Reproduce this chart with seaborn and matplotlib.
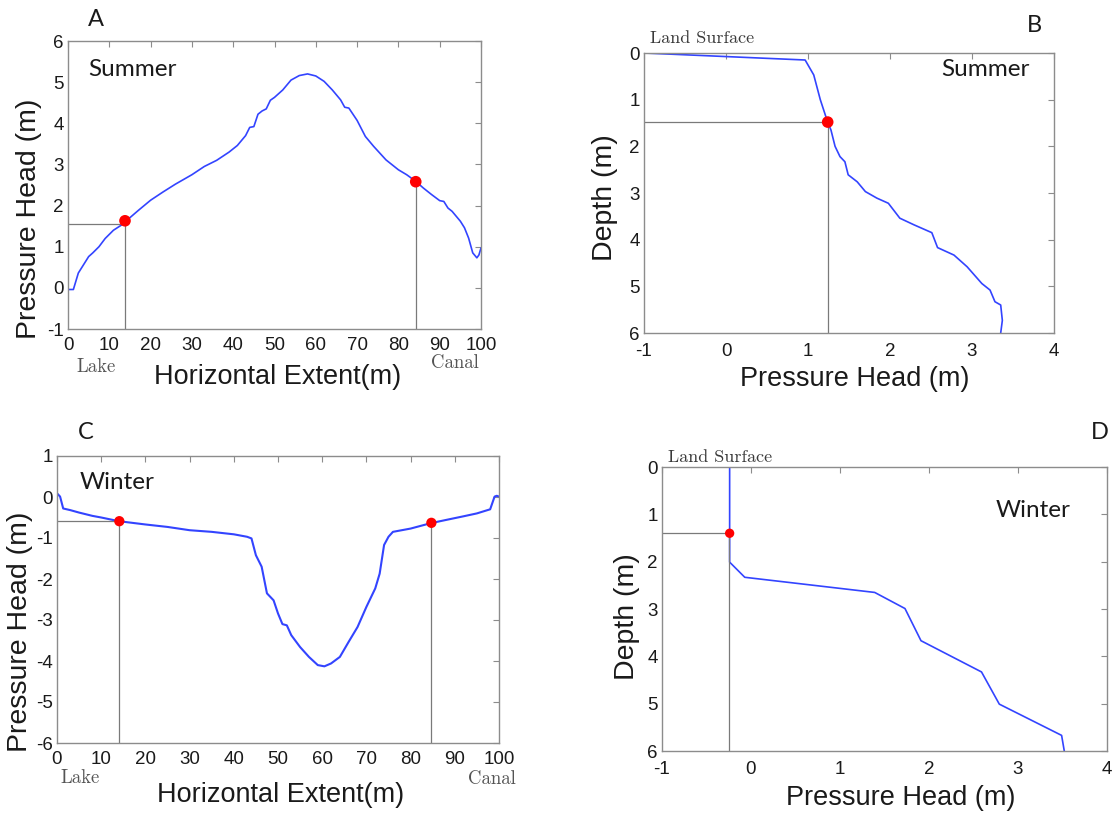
import matplotlib
matplotlib.use("Agg")
import matplotlib.pyplot as plt
import seaborn as sns

# ---------------- data ----------------
# Panel A: Summer, horizontal profile
a_x = [0, 1.3, 2.5, 4, 5, 6, 7.5, 9, 11, 13, 14, 17, 20, 23, 26, 30, 33, 36, 39, 41,
       43, 44, 45, 46, 47, 48, 49, 50, 52, 54, 56, 58, 60, 62, 64, 66, 67, 68, 70, 72,
       74, 77, 80, 82, 84.2, 86, 88, 90, 91, 92, 93, 94, 95, 96, 97, 98, 99, 99.5, 100]
a_y = [-0.04, -0.04, 0.36, 0.6, 0.76, 0.85, 1.0, 1.2, 1.4, 1.53, 1.62, 1.88, 2.13, 2.33,
       2.52, 2.75, 2.95, 3.1, 3.3, 3.46, 3.7, 3.9, 3.92, 4.22, 4.3, 4.35, 4.56, 4.63,
       4.81, 5.05, 5.16, 5.2, 5.15, 5.02, 4.81, 4.57, 4.39, 4.37, 4.07, 3.68, 3.44, 3.11,
       2.87, 2.75, 2.59, 2.43, 2.27, 2.12, 2.1, 1.94, 1.86, 1.74, 1.62, 1.46, 1.21, 0.85,
       0.73, 0.8, 0.97]
a_pts_x = [13.8, 84.2]
a_pts_y = [1.63, 2.58]
a_href = 1.55

# Panel B: Summer, vertical profile
b_head = [-1.0, 0.965, 1.07, 1.15, 1.23, 1.24, 1.28, 1.33, 1.39, 1.45, 1.49, 1.60, 1.70,
          1.84, 1.98, 2.12, 2.29, 2.51, 2.58, 2.78, 2.94, 3.12, 3.22, 3.28, 3.35, 3.37, 3.35]
b_depth = [0.0, 0.15, 0.47, 1.0, 1.43, 1.48, 1.65, 2.0, 2.22, 2.33, 2.61, 2.76, 2.97,
           3.11, 3.22, 3.54, 3.68, 3.85, 4.17, 4.33, 4.58, 4.94, 5.08, 5.33, 5.40, 5.73, 6.0]
b_pt_head = [1.24]
b_pt_depth = [1.48]

# Panel C: Winter, horizontal profile
c_x = [0, 0.7, 1.4, 3, 5, 8, 10, 14, 20, 25, 30, 35, 40, 43, 44, 45, 46.3, 47.5, 49, 50,
       51, 52, 53, 55, 57, 59, 60.5, 62, 64, 66, 68, 70, 72, 73, 74, 75, 76, 80, 84.5, 88,
       92, 95, 98, 99, 99.5, 100]
c_y = [0.09, 0.01, -0.28, -0.32, -0.38, -0.46, -0.5, -0.59, -0.67, -0.73, -0.81, -0.85,
       -0.91, -0.97, -1.01, -1.42, -1.7, -2.35, -2.52, -2.84, -3.1, -3.13, -3.37, -3.66,
       -3.9, -4.1, -4.13, -4.06, -3.9, -3.53, -3.17, -2.68, -2.23, -1.87, -1.17, -0.97,
       -0.85, -0.77, -0.64, -0.56, -0.47, -0.4, -0.3, 0.01, 0.03, 0.01]
c_pts_x = [14.1, 84.7]
c_pts_y = [-0.59, -0.63]
c_href = -0.58

# Panel D: Winter, vertical profile
d_head = [-0.24, -0.24, -0.24, -0.07, 1.39, 1.73, 1.91, 2.59, 2.79, 3.49, 3.52]
d_depth = [0.0, 1.4, 2.01, 2.33, 2.65, 2.99, 3.67, 4.33, 5.01, 5.67, 6.0]
d_pt_head = [-0.24]
d_pt_depth = [1.4]

# ---------------- style ----------------
sns.set_theme(style="white")
plt.rcParams['font.family'] = ['Liberation Sans', 'DejaVu Sans']
plt.rcParams['axes.unicode_minus'] = False

W, H = 1115, 813
fig = plt.figure(figsize=(W / 100, H / 100), dpi=100)

BLUE = '#3344ff'
RED = '#ff0000'
GRAY = '#7a7a7a'
SPINE = '#8c8c8c'
TXT = '#1a1a1a'
CALI = ['Lato', 'DejaVu Sans']
SERIF = ['cmr10', 'Liberation Serif']


def add_ax(l, t, r, b):
    return fig.add_axes([l / W, 1 - b / H, (r - l) / W, (b - t) / H])


def ftext(px, py, s, **kw):
    fig.text(px / W, 1 - py / H, s, **kw)


def style_ax(ax):
    for sp in ax.spines.values():
        sp.set_color(SPINE)
        sp.set_linewidth(1.0)
    ax.tick_params(direction='in', top=True, right=True, length=4, width=0.8,
                   color=SPINE, labelcolor=TXT, labelsize=13.5)
    ax.tick_params(axis='y', pad=3)
    ax.tick_params(axis='x', pad=6)


def set_labels(ax, xl, xc, yl, yc):
    x0, y0, w, h = ax.get_position().bounds
    ax.set_xlabel(xl, fontsize=19.5, color=TXT, va='center', ha='center')
    ax.xaxis.set_label_coords((xc[0] / W - x0) / w, ((1 - xc[1] / H) - y0) / h)
    ax.set_ylabel(yl, fontsize=20.5, color=TXT, va='center', ha='center')
    ax.yaxis.set_label_coords((yc[0] / W - x0) / w, ((1 - yc[1] / H) - y0) / h)


# ---- Panel A ----
axA = add_ax(68, 41, 481, 329)
sns.lineplot(x=a_x, y=a_y, ax=axA, sort=False, estimator=None, color=BLUE, lw=1.2)
axA.plot([0, a_pts_x[0]], [a_href, a_href], color=GRAY, lw=0.9)
for xx, yy in zip(a_pts_x, a_pts_y):
    axA.plot([xx, xx], [-1, yy], color=GRAY, lw=0.9)
sns.scatterplot(x=a_pts_x, y=a_pts_y, ax=axA, color=RED, s=70, edgecolor='none', zorder=5)
axA.set_xlim(0, 100)
axA.set_ylim(-1, 6)
axA.set_xticks(range(0, 101, 10))
axA.set_yticks(range(-1, 7))
style_ax(axA)
set_labels(axA, 'Horizontal Extent(m)', (278, 377), 'Pressure Head (m)', (29, 219))
ftext(96, 19, 'A', fontsize=17, family=CALI, ha='center', va='center', color=TXT)
ftext(88, 70, 'Summer', fontsize=17.5, family=CALI, ha='left', va='center', color=TXT)
ftext(96, 367, 'Lake', fontsize=13.5, family=SERIF, ha='center', va='center', color='#555555')
ftext(455, 363, 'Canal', fontsize=13.5, family=SERIF, ha='center', va='center', color='#555555')

# ---- Panel B ----
axB = add_ax(644, 53, 1054, 333)
sns.lineplot(x=b_head, y=b_depth, ax=axB, sort=False, estimator=None, color=BLUE, lw=1.2)
axB.plot([-1, b_pt_head[0]], [b_pt_depth[0], b_pt_depth[0]], color=GRAY, lw=0.9)
axB.plot([b_pt_head[0], b_pt_head[0]], [b_pt_depth[0], 6], color=GRAY, lw=0.9)
sns.scatterplot(x=b_pt_head, y=b_pt_depth, ax=axB, color=RED, s=70, edgecolor='none', zorder=5)
axB.set_xlim(-1, 4)
axB.set_ylim(6, 0)
axB.set_xticks(range(-1, 5))
axB.set_yticks(range(0, 7))
style_ax(axB)
axB.tick_params(axis='x', pad=7)
set_labels(axB, 'Pressure Head (m)', (855, 379), 'Depth (m)', (605, 198))
ftext(1034, 25, 'B', fontsize=17, family=CALI, ha='center', va='center', color=TXT)
ftext(1030, 70, 'Summer', fontsize=17.5, family=CALI, ha='right', va='center', color=TXT)
ftext(702, 38, 'Land Surface', fontsize=13, family=SERIF, ha='center', va='center', color='#3a3a3a')

# ---- Panel C ----
axC = add_ax(57, 456, 499, 743)
sns.lineplot(x=c_x, y=c_y, ax=axC, sort=False, estimator=None, color=BLUE, lw=1.5)
axC.plot([0, c_pts_x[0]], [c_href, c_href], color=GRAY, lw=0.9)
for xx, yy in zip(c_pts_x, c_pts_y):
    axC.plot([xx, xx], [-6, yy], color=GRAY, lw=0.9)
sns.scatterplot(x=c_pts_x, y=c_pts_y, ax=axC, color=RED, s=55, edgecolor='none', zorder=5)
axC.set_xlim(0, 100)
axC.set_ylim(-6, 1)
axC.set_xticks(range(0, 101, 10))
axC.set_yticks(range(-6, 2))
style_ax(axC)
set_labels(axC, 'Horizontal Extent(m)', (281, 795), 'Pressure Head (m)', (20, 632))
ftext(86, 432, 'C', fontsize=17, family=CALI, ha='center', va='center', color=TXT)
ftext(80, 482, 'Winter', fontsize=17.5, family=CALI, ha='left', va='center', color=TXT)
ftext(80, 778, 'Lake', fontsize=13.5, family=SERIF, ha='center', va='center', color='#555555')
ftext(492, 779, 'Canal', fontsize=13.5, family=SERIF, ha='center', va='center', color='#555555')

# ---- Panel D ----
axD = add_ax(662, 467, 1107, 751)
sns.lineplot(x=d_head, y=d_depth, ax=axD, sort=False, estimator=None, color=BLUE, lw=1.2)
axD.plot([-1, d_pt_head[0]], [d_pt_depth[0], d_pt_depth[0]], color=GRAY, lw=0.9)
axD.plot([d_pt_head[0] - 0.01, d_pt_head[0] - 0.01], [d_pt_depth[0], 6], color=GRAY, lw=0.9)
sns.scatterplot(x=d_pt_head, y=d_pt_depth, ax=axD, color=RED, s=45, edgecolor='none', zorder=5)
axD.set_xlim(-1, 4)
axD.set_ylim(6, 0)
axD.set_xticks(range(-1, 5))
axD.set_yticks(range(0, 7))
style_ax(axD)
axD.tick_params(axis='x', pad=7)
set_labels(axD, 'Pressure Head (m)', (901, 798), 'Depth (m)', (627, 617))
ftext(1100, 432, 'D', fontsize=17, family=CALI, ha='center', va='center', color=TXT)
ftext(1070, 510, 'Winter', fontsize=17.5, family=CALI, ha='right', va='center', color=TXT)
ftext(720, 457, 'Land Surface', fontsize=13, family=SERIF, ha='center', va='center', color='#3a3a3a')

fig.savefig('out.png', dpi=100)
